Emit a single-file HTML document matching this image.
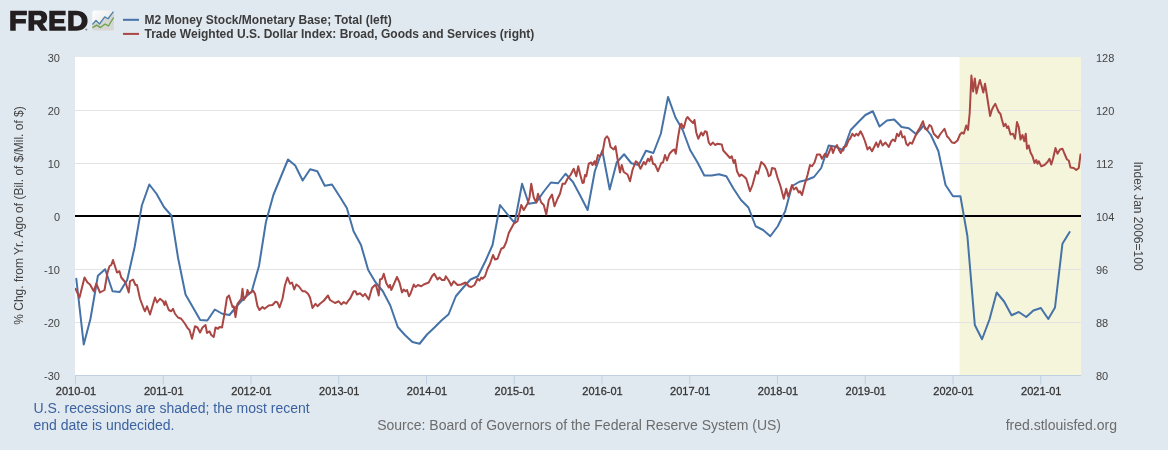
<!DOCTYPE html>
<html><head><meta charset="utf-8"><title>FRED Graph</title>
<style>html,body{margin:0;padding:0;background:#e1e9f0;}body{width:1168px;height:450px;overflow:hidden;font-family:"Liberation Sans",sans-serif;}</style>
</head><body>
<svg width="1168" height="450" viewBox="0 0 1168 450" style="display:block;font-family:'Liberation Sans',sans-serif;will-change:transform;transform:translateZ(0)">
<rect width="1168" height="450" fill="#e1e9f0"/>
<rect x="75" y="57" width="1006" height="318.5" fill="#ffffff"/>
<rect x="959.5" y="57" width="121.5" height="318.5" fill="#f5f5dc"/>
<rect x="75" y="110" width="1006" height="1" fill="#e3e3e3"/>
<rect x="75" y="163" width="1006" height="1" fill="#e3e3e3"/>
<rect x="75" y="269" width="1006" height="1" fill="#e3e3e3"/>
<rect x="75" y="322" width="1006" height="1" fill="#e3e3e3"/>
<rect x="75" y="375" width="1006" height="1" fill="#c0d0e0"/>
<rect x="75.00" y="375" width="1" height="9.5" fill="#c0d0e0"/>
<text x="76.00" y="394.8" font-size="11" fill="#333" stroke="#333" stroke-width="0.28" text-anchor="middle">2010-01</text>
<rect x="162.75" y="375" width="1" height="9.5" fill="#c0d0e0"/>
<text x="163.75" y="394.8" font-size="11" fill="#333" stroke="#333" stroke-width="0.28" text-anchor="middle">2011-01</text>
<rect x="250.50" y="375" width="1" height="9.5" fill="#c0d0e0"/>
<text x="251.50" y="394.8" font-size="11" fill="#333" stroke="#333" stroke-width="0.28" text-anchor="middle">2012-01</text>
<rect x="338.25" y="375" width="1" height="9.5" fill="#c0d0e0"/>
<text x="339.25" y="394.8" font-size="11" fill="#333" stroke="#333" stroke-width="0.28" text-anchor="middle">2013-01</text>
<rect x="426.00" y="375" width="1" height="9.5" fill="#c0d0e0"/>
<text x="427.00" y="394.8" font-size="11" fill="#333" stroke="#333" stroke-width="0.28" text-anchor="middle">2014-01</text>
<rect x="513.75" y="375" width="1" height="9.5" fill="#c0d0e0"/>
<text x="514.75" y="394.8" font-size="11" fill="#333" stroke="#333" stroke-width="0.28" text-anchor="middle">2015-01</text>
<rect x="601.50" y="375" width="1" height="9.5" fill="#c0d0e0"/>
<text x="602.50" y="394.8" font-size="11" fill="#333" stroke="#333" stroke-width="0.28" text-anchor="middle">2016-01</text>
<rect x="689.25" y="375" width="1" height="9.5" fill="#c0d0e0"/>
<text x="690.25" y="394.8" font-size="11" fill="#333" stroke="#333" stroke-width="0.28" text-anchor="middle">2017-01</text>
<rect x="777.00" y="375" width="1" height="9.5" fill="#c0d0e0"/>
<text x="778.00" y="394.8" font-size="11" fill="#333" stroke="#333" stroke-width="0.28" text-anchor="middle">2018-01</text>
<rect x="864.75" y="375" width="1" height="9.5" fill="#c0d0e0"/>
<text x="865.75" y="394.8" font-size="11" fill="#333" stroke="#333" stroke-width="0.28" text-anchor="middle">2019-01</text>
<rect x="952.50" y="375" width="1" height="9.5" fill="#c0d0e0"/>
<text x="953.50" y="394.8" font-size="11" fill="#333" stroke="#333" stroke-width="0.28" text-anchor="middle">2020-01</text>
<rect x="1040.25" y="375" width="1" height="9.5" fill="#c0d0e0"/>
<text x="1041.25" y="394.8" font-size="11" fill="#333" stroke="#333" stroke-width="0.28" text-anchor="middle">2021-01</text>
<rect x="75" y="215" width="1006" height="2" fill="#000"/>
<text x="60" y="61.81" font-size="11" fill="#444" text-anchor="end">30</text>
<text x="60" y="114.89" font-size="11" fill="#444" text-anchor="end">20</text>
<text x="60" y="167.97" font-size="11" fill="#444" text-anchor="end">10</text>
<text x="60" y="221.05" font-size="11" fill="#444" text-anchor="end">0</text>
<text x="60" y="274.13" font-size="11" fill="#444" text-anchor="end">-10</text>
<text x="60" y="327.21" font-size="11" fill="#444" text-anchor="end">-20</text>
<text x="60" y="380.29" font-size="11" fill="#444" text-anchor="end">-30</text>
<text x="1095.9" y="61.80" font-size="11" fill="#444">128</text>
<text x="1095.9" y="114.88" font-size="11" fill="#444">120</text>
<text x="1095.9" y="167.97" font-size="11" fill="#444">112</text>
<text x="1095.9" y="221.05" font-size="11" fill="#444">104</text>
<text x="1095.9" y="274.13" font-size="11" fill="#444">96</text>
<text x="1095.9" y="327.21" font-size="11" fill="#444">88</text>
<text x="1095.9" y="380.30" font-size="11" fill="#444">80</text>
<text transform="translate(23,215.5) rotate(-90)" font-size="12" fill="#444" text-anchor="middle">% Chg. from Yr. Ago of (Bil. of $/Mil. of $)</text>
<text transform="translate(1134,216) rotate(90)" font-size="12" fill="#444" text-anchor="middle">Index Jan 2006=100</text>
<g clip-path="url(#cp)">
<polyline points="76.30,278.75 83.74,344.50 90.46,318.75 97.90,275.75 105.11,269.25 112.55,291.25 119.75,292.00 127.19,280.00 134.63,247.00 141.83,205.50 149.28,184.50 156.48,193.75 163.92,207.00 171.36,215.50 178.08,258.00 185.52,294.50 192.73,307.00 200.17,320.00 207.37,320.50 214.81,309.50 222.25,313.75 229.45,315.00 236.90,306.00 244.10,298.00 251.54,292.00 258.98,266.00 265.94,222.00 273.38,195.00 280.59,177.50 288.03,159.50 295.23,165.50 302.67,180.50 310.11,169.25 317.31,171.25 324.76,185.75 331.96,184.50 339.40,196.00 346.84,208.00 353.56,231.25 361.00,245.00 368.21,270.00 375.65,282.50 382.85,291.25 390.29,305.50 397.73,327.00 404.93,335.00 412.38,342.00 419.58,343.75 427.02,334.50 434.46,327.50 441.18,320.75 448.62,314.25 455.83,296.25 463.27,287.50 470.47,279.50 477.91,276.25 485.35,261.25 492.55,245.00 500.00,205.00 507.20,214.00 514.64,223.00 522.08,183.75 528.80,203.75 536.24,202.50 543.45,192.00 550.89,182.50 558.09,183.25 565.53,173.75 572.97,182.00 580.17,195.50 587.62,210.00 594.82,171.25 602.26,150.50 609.70,189.50 616.66,162.50 624.10,154.25 631.31,163.25 638.75,165.00 645.95,150.75 653.39,153.00 660.83,133.75 668.03,96.90 675.48,117.50 682.68,130.00 690.12,150.00 697.56,162.50 704.28,175.50 711.72,175.50 718.93,174.25 726.37,176.25 733.57,188.75 741.01,200.00 748.45,207.50 755.65,226.25 763.10,230.00 770.30,236.25 777.74,226.25 785.18,211.25 791.90,186.25 799.34,181.75 806.55,180.00 813.99,177.00 821.19,168.00 828.63,145.50 836.07,146.75 843.27,150.50 850.72,130.00 857.92,122.50 865.36,115.00 872.80,111.25 879.52,126.50 886.96,120.50 894.17,119.50 901.61,127.00 908.81,128.25 916.25,134.25 923.69,125.50 930.89,135.00 938.34,151.00 945.54,185.00 952.98,196.25 960.42,196.25 967.38,236.00 974.82,325.00 982.03,339.25 989.47,319.50 996.67,292.50 1004.11,301.50 1011.55,315.25 1018.75,312.00 1026.20,317.00 1033.40,310.50 1040.84,308.00 1048.28,319.00 1055.00,307.50 1062.44,243.75 1069.65,232.00" fill="none" stroke="#4572a7" stroke-width="2" stroke-linejoin="round" stroke-linecap="round"/>
<polyline points="75.50,288.75 79.50,297.50 84.50,277.50 87.50,282.50 90.00,284.50 93.75,291.25 96.25,283.75 100.00,292.50 104.50,290.00 107.50,272.50 109.50,266.25 111.25,265.00 113.00,260.00 117.00,272.50 119.50,271.25 121.25,277.50 125.50,282.50 128.75,292.50 130.00,281.25 133.00,279.50 135.50,285.00 137.00,285.00 140.00,298.75 143.75,308.75 145.00,311.25 147.00,306.25 150.00,314.50 155.00,297.50 157.00,302.50 160.00,298.75 163.00,301.25 164.50,305.00 165.50,301.25 168.75,310.00 171.25,311.25 173.00,308.75 175.00,313.75 178.00,317.50 181.25,318.75 185.00,323.75 187.50,328.00 189.50,330.00 192.00,338.75 195.00,326.25 197.50,327.50 200.00,332.50 202.50,327.50 205.50,325.00 207.00,333.00 209.50,331.25 211.25,335.00 213.75,337.00 215.50,327.50 218.00,328.75 219.50,327.00 222.00,327.50 224.50,313.75 227.00,297.50 229.00,295.50 232.50,307.00 233.75,306.25 235.50,317.00 237.50,303.75 241.25,298.75 242.50,288.75 243.75,300.00 246.25,296.25 247.50,290.00 249.00,293.75 253.25,290.75 255.00,293.75 257.50,306.25 259.50,310.00 262.50,307.00 264.50,308.75 268.75,305.50 272.50,305.00 275.50,301.75 277.50,302.50 279.50,307.50 282.50,298.75 285.00,285.00 287.50,277.50 290.00,283.75 292.00,282.50 294.25,289.50 296.25,284.50 298.75,286.25 302.50,291.25 305.00,291.25 308.00,293.75 310.00,297.50 312.50,308.00 315.50,303.75 317.50,306.25 320.00,303.75 323.75,300.75 328.00,295.50 330.00,300.00 335.00,303.00 338.75,301.25 341.25,304.50 343.75,302.00 346.25,303.75 348.75,300.00 350.00,298.75 353.75,291.25 355.50,291.25 357.00,294.50 360.00,293.25 363.00,296.25 365.00,293.75 368.75,299.50 372.00,288.00 375.00,285.00 376.25,286.25 378.75,295.50 380.00,279.50 382.00,278.75 383.75,273.75 386.25,283.00 388.75,287.50 390.00,285.00 391.25,290.00 393.75,284.50 397.00,277.00 399.50,282.50 402.00,292.50 403.75,289.50 405.50,291.25 407.00,290.00 409.00,296.25 410.50,293.75 413.75,284.50 415.50,287.00 418.00,285.00 421.25,286.25 423.75,284.50 428.75,282.50 432.00,276.25 434.25,273.75 437.50,279.50 439.50,277.50 442.00,280.00 444.50,280.00 445.75,276.25 448.75,280.50 451.25,285.50 453.75,281.25 457.50,285.00 461.25,284.50 465.50,282.50 468.75,286.25 471.25,287.00 474.50,285.00 477.50,278.75 479.50,280.50 481.25,277.50 482.50,278.75 485.00,276.25 487.50,268.75 490.00,263.75 493.00,255.00 495.00,259.50 497.50,258.75 501.25,248.75 503.75,247.50 506.25,242.00 508.75,233.00 513.75,223.75 517.50,221.25 521.25,205.00 523.75,210.00 527.50,203.75 529.50,197.50 531.25,183.75 533.75,197.50 536.25,202.50 538.00,193.75 541.25,202.50 543.75,205.00 546.25,214.50 548.75,200.00 552.00,194.50 554.50,206.25 557.50,198.75 560.00,193.75 562.50,183.75 565.00,183.75 567.50,178.75 570.50,175.00 573.75,168.75 576.25,176.25 578.25,166.25 580.00,173.75 582.50,183.00 583.75,182.50 585.00,175.00 586.25,176.25 588.75,163.75 591.25,162.50 592.50,165.00 594.50,161.25 595.50,165.00 598.00,155.00 600.00,156.25 602.50,152.50 605.00,138.75 607.00,136.25 608.75,138.75 610.50,147.00 613.75,149.50 615.50,146.25 617.50,158.75 620.00,172.50 621.75,165.00 623.75,172.00 627.50,174.50 630.00,181.25 632.50,170.00 635.75,161.25 637.50,162.50 640.50,168.75 643.75,162.00 645.50,164.50 648.00,158.75 649.50,161.25 651.25,156.25 653.00,163.75 655.00,164.50 658.00,171.25 661.25,163.00 663.00,162.50 665.00,155.00 667.00,160.50 669.50,153.75 672.50,150.50 674.50,149.50 675.75,153.75 678.00,137.50 680.00,126.25 681.25,123.75 683.75,128.00 686.25,118.75 687.50,117.00 690.00,120.00 693.00,123.00 694.50,120.00 696.25,132.50 698.25,138.75 701.25,132.50 703.00,135.50 705.00,131.25 706.75,132.00 708.75,142.50 710.50,145.00 713.00,142.50 715.00,145.00 717.50,143.75 721.75,144.50 723.25,150.50 726.25,153.75 730.00,158.00 731.75,156.25 733.75,163.00 735.00,160.00 737.00,171.25 739.50,176.25 741.25,174.50 743.75,176.25 746.25,178.75 747.00,181.25 750.00,191.25 752.50,185.00 756.25,171.25 758.00,173.75 761.25,162.00 764.50,165.00 767.00,170.00 768.75,176.25 770.50,175.00 772.00,168.00 775.00,168.75 777.50,177.50 780.50,186.25 783.75,198.75 786.25,188.75 788.00,196.25 790.00,191.25 792.00,185.00 793.75,189.50 796.25,187.50 798.75,192.50 800.00,191.25 802.00,195.00 804.50,185.00 807.50,175.00 810.00,165.00 812.00,166.25 814.50,162.50 817.00,154.50 820.00,154.50 822.00,158.75 825.00,153.75 827.00,157.00 829.50,151.25 831.25,146.25 833.00,153.00 835.00,147.50 837.00,145.00 838.75,149.50 840.75,153.00 843.75,147.00 846.25,146.25 848.75,140.00 850.00,138.75 852.50,133.75 854.50,136.25 856.25,133.75 858.25,135.50 860.50,131.25 862.50,135.00 865.00,141.25 867.50,149.50 869.50,147.00 872.00,151.25 874.50,146.25 876.25,142.50 878.00,147.00 880.50,140.50 882.50,145.50 885.50,142.50 888.75,147.00 891.25,141.25 893.00,139.50 895.00,141.25 897.00,133.75 898.75,136.25 900.75,131.25 902.50,137.50 904.50,136.25 906.25,143.75 908.00,145.50 910.00,142.50 912.00,143.75 914.50,138.00 917.00,132.50 920.00,127.50 923.00,121.25 925.00,128.75 927.00,130.00 929.50,125.00 931.25,126.25 933.75,133.75 936.25,136.25 938.00,138.00 940.00,134.50 942.50,131.25 944.50,128.75 947.00,136.25 948.75,138.00 952.00,142.50 954.50,143.00 957.50,140.50 960.00,134.50 962.00,132.50 963.75,133.75 966.25,125.50 968.00,130.00 969.70,113.00 971.40,75.50 973.10,91.50 974.80,78.40 976.50,93.40 978.20,86.00 979.90,80.00 981.60,86.00 983.30,92.50 985.00,83.75 986.70,94.00 988.40,105.00 990.10,115.90 991.80,110.00 993.50,106.50 995.30,103.75 997.00,108.00 998.70,112.00 1000.50,114.00 1002.00,120.00 1003.75,126.25 1005.50,123.75 1007.00,128.00 1008.25,126.25 1010.50,134.50 1013.00,133.75 1015.00,138.75 1017.00,122.00 1018.75,127.00 1020.50,139.50 1022.50,135.00 1024.25,141.25 1025.75,133.75 1027.00,148.75 1028.75,145.50 1030.50,152.50 1032.50,156.25 1034.50,163.00 1036.25,160.00 1037.50,163.75 1038.75,161.25 1041.25,166.25 1044.50,165.00 1047.50,162.00 1049.50,158.75 1051.25,164.50 1053.00,158.75 1055.50,148.00 1057.50,153.75 1060.00,149.50 1062.50,148.75 1064.50,153.75 1067.00,159.50 1068.75,160.50 1070.50,167.50 1073.75,168.00 1076.25,170.00 1078.75,168.00 1080.50,154.50" fill="none" stroke="#aa4643" stroke-width="2" stroke-linejoin="round" stroke-linecap="round"/>
</g>
<defs><clipPath id="cp"><rect x="75" y="57" width="1006" height="318.5"/></clipPath><linearGradient id="ig" x1="0" y1="0" x2="1" y2="1"><stop offset="0" stop-color="#ffffff"/><stop offset="1" stop-color="#dedede"/></linearGradient></defs>
<rect x="123" y="18.8" width="16" height="2" fill="#4572a7"/>
<rect x="123" y="32.9" width="16" height="2" fill="#aa4643"/>
<text x="144.5" y="24" font-size="12" font-weight="bold" fill="#3c3c3c">M2 Money Stock/Monetary Base; Total (left)</text>
<text x="144.5" y="38" font-size="12" font-weight="bold" fill="#3c3c3c">Trade Weighted U.S. Dollar Index: Broad, Goods and Services (right)</text>
<g fill="#231f20" fill-rule="evenodd">
<path d="M10.2,10.7H26.9V15.3H15.7V19.1H25.9V23.4H15.7V30.7H10.2Z"/>
<path d="M28.5,10.7H39.5C44.5,10.7 47.2,13.3 47.2,17.4C47.2,20.8 45.4,22.9 42.7,23.8L47.7,30.7H41L36.8,24.6H34.2V30.7H28.5ZM34.2,15.3V20.2H38.9C40.6,20.2 41.4,19.2 41.4,17.8C41.4,16.2 40.5,15.3 38.9,15.3Z"/>
<path d="M49.3,10.7H65.6V15.3H54.7V19.1H64.2V23.2H54.7V26.4H65.7V30.7H49.3Z"/>
<path d="M68.2,10.7H76.2C83.2,10.7 87.6,14.6 87.6,20.7C87.6,26.8 83.2,30.7 76.2,30.7H68.2ZM73.6,15.3V26.2H76.2C79.6,26.2 81.7,24.1 81.7,20.7C81.7,17.3 79.6,15.3 76.2,15.3Z"/>
</g>
<circle cx="86.3" cy="29.6" r="1.1" fill="#8a8d92"/>
<rect x="92.2" y="10.5" width="21.8" height="20.1" rx="2.6" fill="url(#ig)"/>
<path d="M92.2,24.7 L96,20.4 L99.5,24 L104.7,16.9 L108,18.75 L113.4,11.7 L114,12 L114,28 Q114,30.6 111.4,30.6 L94.8,30.6 Q92.2,30.6 92.2,28 Z" fill="#d6d6d6"/>
<polyline points="92.4,24.5 96,20.4 99.5,24 104.7,16.9 108,18.75 113.4,11.7" fill="none" stroke="#4c82a5" stroke-width="1.3" stroke-linejoin="round"/>
<polyline points="92.4,27.6 96.7,25.15 100.4,27.6 105.1,24 108.4,26 113.6,17.5" fill="none" stroke="#69a046" stroke-width="1.3" stroke-linejoin="round"/>
<text x="33.5" y="413" font-size="14" fill="#3b62a0">U.S. recessions are shaded; the most recent</text>
<text x="33.5" y="429.5" font-size="14" fill="#3b62a0">end date is undecided.</text>
<text x="377.2" y="429.5" font-size="14" fill="#6c6c6c">Source: Board of Governors of the Federal Reserve System (US)</text>
<text x="1005.7" y="429.5" font-size="14" fill="#6c6c6c">fred.stlouisfed.org</text>
</svg>
</body></html>
